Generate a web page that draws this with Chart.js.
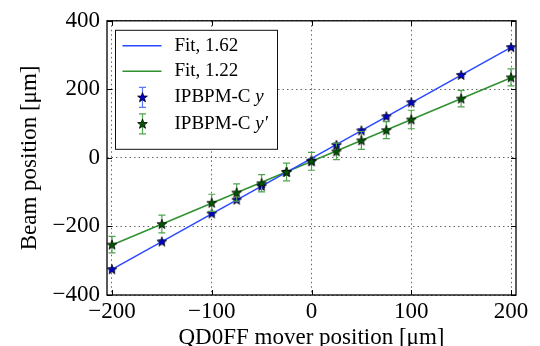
<!DOCTYPE html>
<html>
<head>
<meta charset="utf-8">
<script src="https://cdn.jsdelivr.net/npm/chart.js@4"></script>
<style>
  html, body { margin: 0; padding: 0; background: #fff; }
  #wrap { width: 540px; height: 346px; }
</style>
</head>
<body>
<div id="wrap"><canvas id="graph"></canvas></div>
<script>
"use strict";

// mover positions [um]
const mover_pos = [-200, -150, -100, -75, -50, -25, 0, 25, 50, 75, 100, 150, 200];
// measured beam position, y and y'
const beam_y = [-325, -244, -162, -122, -82, -41, -8, 38, 80, 121, 162, 242, 323];
const beam_y_err = [5, 5, 5, 5, 5, 5, 5, 5, 5, 5, 5, 5, 5];
const beam_yp = [-253, -193, -131, -101, -74, -41, -10, 19, 51, 81, 112, 173, 235];
const beam_yp_err = [24, 26, 25, 25, 25, 26, 26, 24, 26, 25, 27, 24, 25];

// linear fits (slope from the legend)
const fit_y = { slope: 1.62, offset: -1.5 };
const fit_yp = { slope: 1.22, offset: -10 };
const fit_range = [-200, 200];

const x_ticks = [-200, -100, 0, 100, 200];
const y_ticks = [-400, -200, 0, 200, 400];

const FONT = "'Liberation Serif', 'DejaVu Serif', serif";

const BLUE_LINE = "#2a48ff";
const GREEN_LINE = "#2f912f";
const BLUE_ERR = "#5a78ff";
const GREEN_ERR = "#4ea44e";
const BLUE_STAR = "#0000d0";
const GREEN_STAR = "#005a00";

function make_star(fill) {
  const c = document.createElement("canvas");
  c.width = 12;
  c.height = 12;
  const g = c.getContext("2d");
  draw_star(g, 6, 6.4, fill);
  return c;
}

function draw_star(g, cx, cy, fill) {
  g.beginPath();
  for (let i = 0; i < 10; i++) {
    const r = i % 2 ? 2.1 : 5.1;
    const a = -Math.PI / 2 + (i * Math.PI) / 5;
    g.lineTo(cx + r * Math.cos(a), cy + r * Math.sin(a));
  }
  g.closePath();
  g.fillStyle = fill;
  g.fill();
  g.lineWidth = 0.8;
  g.strokeStyle = "#000";
  g.stroke();
}

function to_points(xs, ys) {
  return xs.map((x, i) => ({ x: x, y: ys[i] }));
}

function fit_points(fit) {
  return fit_range.map((x) => ({ x: x, y: fit.slope * x + fit.offset }));
}

function minus(v) {
  return v < 0 ? "\u2212" + Math.abs(v) : String(v);
}

function draw_errbar(ctx, x, y1, y2, color) {
  ctx.strokeStyle = color;
  ctx.lineWidth = 1.2;
  ctx.beginPath();
  ctx.moveTo(x, y1);
  ctx.lineTo(x, y2);
  ctx.moveTo(x - 3.5, y1);
  ctx.lineTo(x + 3.5, y1);
  ctx.moveTo(x - 3.5, y2);
  ctx.lineTo(x + 3.5, y2);
  ctx.stroke();
}

// error bars go under the star markers
const errorbars = {
  id: "errorbars",
  beforeDatasetDraw(chart, args) {
    const ds = chart.data.datasets[args.index];
    if (!ds.errors) return;
    const { ctx, scales } = chart;
    ctx.save();
    ds.data.forEach((p, i) => {
      const px = scales.x.getPixelForValue(p.x);
      const top = scales.y.getPixelForValue(p.y + ds.errors[i]);
      const bot = scales.y.getPixelForValue(p.y - ds.errors[i]);
      draw_errbar(ctx, px, top, bot, ds.errColor);
    });
    ctx.restore();
  },
};

// frame, inward ticks and the legend box
const frame = {
  id: "frame",
  afterDraw(chart) {
    const { ctx, chartArea: ca, scales } = chart;
    ctx.save();
    ctx.strokeStyle = "#000";
    ctx.lineWidth = 1;
    ctx.beginPath();
    x_ticks.forEach((v) => {
      const px = Math.round(scales.x.getPixelForValue(v)) + 0.5;
      ctx.moveTo(px, ca.bottom);
      ctx.lineTo(px, ca.bottom - 5);
      ctx.moveTo(px, ca.top);
      ctx.lineTo(px, ca.top + 5);
    });
    y_ticks.forEach((v) => {
      const py = Math.round(scales.y.getPixelForValue(v)) + 0.5;
      ctx.moveTo(ca.left, py);
      ctx.lineTo(ca.left + 5, py);
      ctx.moveTo(ca.right, py);
      ctx.lineTo(ca.right - 5, py);
    });
    ctx.stroke();
    ctx.lineWidth = 1.3;
    ctx.strokeRect(ca.left, ca.top, ca.right - ca.left, ca.bottom - ca.top);

    // legend
    const lx = ca.left + 8.5;
    const ly = ca.top + 9.5;
    ctx.fillStyle = "#fff";
    ctx.fillRect(lx, ly, 162, 119);
    ctx.strokeStyle = "#111";
    ctx.lineWidth = 1;
    ctx.strokeRect(lx, ly, 162, 119);

    const rows = [ly + 15.5, ly + 41, ly + 67, ly + 93.5];
    const sx1 = lx + 7;
    const sx2 = lx + 46;
    const mx = lx + 27;
    const tx = lx + 59;

    ctx.lineWidth = 1.5;
    ctx.strokeStyle = BLUE_LINE;
    ctx.beginPath();
    ctx.moveTo(sx1, rows[0]);
    ctx.lineTo(sx2, rows[0]);
    ctx.stroke();
    ctx.strokeStyle = GREEN_LINE;
    ctx.beginPath();
    ctx.moveTo(sx1, rows[1]);
    ctx.lineTo(sx2, rows[1]);
    ctx.stroke();

    draw_errbar(ctx, mx, rows[2] - 10, rows[2] + 10, BLUE_ERR);
    draw_star(ctx, mx, rows[2] + 0.4, BLUE_STAR);
    draw_errbar(ctx, mx, rows[3] - 10, rows[3] + 10, GREEN_ERR);
    draw_star(ctx, mx, rows[3] + 0.4, GREEN_STAR);

    ctx.fillStyle = "#000";
    ctx.textBaseline = "middle";
    ctx.textAlign = "left";
    ctx.font = "19px " + FONT;
    ctx.fillText("Fit, " + fit_y.slope.toFixed(2), tx, rows[0]);
    ctx.fillText("Fit, " + fit_yp.slope.toFixed(2), tx, rows[1]);
    const head = "IPBPM-C ";
    const w = ctx.measureText(head).width;
    ctx.fillText(head, tx, rows[2]);
    ctx.fillText(head, tx, rows[3]);
    ctx.font = "italic 19px " + FONT;
    ctx.fillText("y", tx + w, rows[2]);
    ctx.fillText("y\u2032", tx + w, rows[3]);
    ctx.restore();
  },
};

const config = {
  type: "scatter",
  data: {
    datasets: [
      {
        label: "Fit, 1.62",
        type: "line",
        data: fit_points(fit_y),
        borderColor: BLUE_LINE,
        borderWidth: 1.5,
        pointRadius: 0,
        order: 2,
      },
      {
        label: "Fit, 1.22",
        type: "line",
        data: fit_points(fit_yp),
        borderColor: GREEN_LINE,
        borderWidth: 1.5,
        pointRadius: 0,
        order: 2,
      },
      {
        label: "IPBPM-C y",
        data: to_points(mover_pos, beam_y),
        errors: beam_y_err,
        errColor: BLUE_ERR,
        pointStyle: make_star(BLUE_STAR),
        order: 1,
      },
      {
        label: "IPBPM-C y'",
        data: to_points(mover_pos, beam_yp),
        errors: beam_yp_err,
        errColor: GREEN_ERR,
        pointStyle: make_star(GREEN_STAR),
        order: 0,
      },
    ],
  },
  options: {
    responsive: true,
    maintainAspectRatio: false,
    animation: false,
    layout: { padding: { top: 15, right: 24, left: 0, bottom: 0 } },
    plugins: {
      legend: { display: false },
      tooltip: { enabled: false },
    },
    scales: {
      x: {
        type: "linear",
        min: -205,
        max: 205,
        afterBuildTicks: (s) => {
          s.ticks = x_ticks.map((v) => ({ value: v }));
        },
        afterFit: (s) => {
          s.height = 51;
        },
        ticks: {
          autoSkip: false,
          maxRotation: 0,
          padding: 3,
          color: "#000",
          font: { family: FONT, size: 23 },
          callback: (v) => minus(v),
        },
        grid: { color: "rgba(0,0,0,0.6)", lineWidth: 1, drawTicks: false },
        border: { display: false, dash: [1.5, 3] },
        title: {
          display: true,
          text: "QD0FF mover position [\u03bcm]",
          color: "#000",
          font: { family: FONT, size: 23, lineHeight: 0.7 },
          padding: { top: 0, bottom: 0 },
        },
      },
      y: {
        type: "linear",
        min: -400,
        max: 400,
        afterBuildTicks: (s) => {
          s.ticks = y_ticks.map((v) => ({ value: v }));
        },
        afterFit: (s) => {
          s.width = 107;
        },
        ticks: {
          padding: 7,
          color: "#000",
          font: { family: FONT, size: 23 },
          callback: (v) => minus(v),
        },
        grid: { color: "rgba(0,0,0,0.6)", lineWidth: 1, drawTicks: false },
        border: { display: false, dash: [1.5, 3] },
        title: {
          display: true,
          text: "Beam position [\u03bcm]",
          color: "#000",
          font: { family: FONT, size: 23, lineHeight: 0.7 },
          padding: { top: 22, bottom: 0 },
        },
      },
    },
  },
  plugins: [errorbars, frame],
};

new Chart(document.getElementById("graph"), config);
</script>
</body>
</html>
